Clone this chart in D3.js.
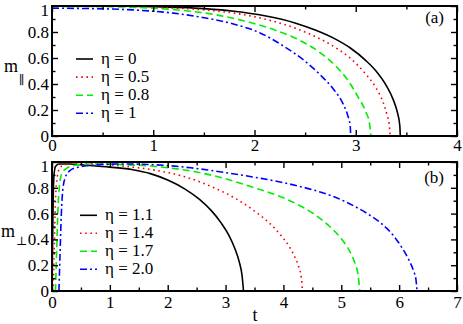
<!DOCTYPE html>
<html>
<head>
<meta charset="utf-8">
<script src="https://cdn.jsdelivr.net/npm/d3@7"></script>
<style>
  body { margin: 0; background: #fff; }
  svg text { font-family: "Times New Roman", "Liberation Serif", Times, "DejaVu Serif", serif !important; }
</style>
</head>
<body>
<div id="my_dataviz"></div>
<script>
// ---- data ----
// panel (a): m_parallel vs t
var tA0  = [0, 0.5, 1.0, 1.5, 1.8, 2.1, 2.4, 2.6, 2.8, 2.95, 3.1, 3.2, 3.3, 3.37, 3.41, 3.435, 3.44];
var mA0  = [1.0, 0.9995, 0.995, 0.98, 0.96, 0.925, 0.87, 0.815, 0.745, 0.675, 0.58, 0.5, 0.39, 0.28, 0.185, 0.08, 0];
var tA05 = [0, 0.5, 1.0, 1.5, 1.8, 2.1, 2.4, 2.6, 2.8, 2.95, 3.1, 3.2, 3.27, 3.31, 3.33, 3.34];
var mA05 = [1.0, 0.999, 0.99, 0.97, 0.945, 0.9, 0.83, 0.765, 0.68, 0.595, 0.475, 0.37, 0.26, 0.16, 0.09, 0];
var tA08 = [0, 0.5, 1.0, 1.3, 1.6, 1.9, 2.2, 2.45, 2.65, 2.8, 2.93, 3.03, 3.1, 3.135, 3.15];
var mA08 = [0.997, 0.995, 0.983, 0.965, 0.935, 0.885, 0.815, 0.735, 0.64, 0.54, 0.42, 0.29, 0.185, 0.1, 0];
var tA1  = [0, 0.4, 0.8, 1.2, 1.5, 1.8, 2.05, 2.3, 2.5, 2.65, 2.78, 2.87, 2.92, 2.945, 2.95];
var mA1  = [0.983, 0.98, 0.97, 0.945, 0.91, 0.86, 0.795, 0.685, 0.575, 0.47, 0.36, 0.255, 0.16, 0.08, 0];

// panel (b): m_perp vs t
var tB11 = [0, 0.01, 0.02, 0.035, 0.06, 0.12, 0.3, 0.6, 1.0, 1.4, 1.7, 2.0, 2.3, 2.55, 2.75, 2.92, 3.06, 3.16, 3.24, 3.285, 3.31];
var mB11 = [0, 0.35, 0.7, 0.9, 0.965, 0.985, 0.985, 0.975, 0.96, 0.94, 0.91, 0.86, 0.79, 0.71, 0.625, 0.53, 0.43, 0.33, 0.22, 0.12, 0];
var tB14 = [0.02, 0.04, 0.06, 0.09, 0.13, 0.2, 0.4, 0.8, 1.3, 1.8, 2.3, 2.8, 3.2, 3.5, 3.75, 3.95, 4.1, 4.2, 4.27, 4.31, 4.33];
var mB14 = [0, 0.35, 0.7, 0.88, 0.95, 0.975, 0.99, 0.985, 0.965, 0.935, 0.885, 0.8, 0.71, 0.62, 0.53, 0.435, 0.345, 0.26, 0.18, 0.1, 0];
var tB17 = [0.06, 0.08, 0.1, 0.13, 0.17, 0.25, 0.4, 0.7, 1.2, 1.8, 2.4, 3.0, 3.5, 3.9, 4.25, 4.55, 4.8, 5.0, 5.15, 5.24, 5.29, 5.32];
var mB17 = [0, 0.3, 0.6, 0.82, 0.91, 0.95, 0.975, 0.985, 0.98, 0.965, 0.93, 0.87, 0.80, 0.74, 0.67, 0.59, 0.5, 0.405, 0.305, 0.21, 0.125, 0];
var tB20 = [0.12, 0.14, 0.16, 0.19, 0.23, 0.3, 0.45, 0.7, 1.2, 1.8, 2.4, 3.0, 3.6, 4.1, 4.5, 4.85, 5.15, 5.45, 5.7, 5.9, 6.05, 6.17, 6.25, 6.29, 6.31];
var mB20 = [0, 0.3, 0.58, 0.8, 0.88, 0.93, 0.96, 0.975, 0.985, 0.978, 0.955, 0.918, 0.874, 0.83, 0.785, 0.735, 0.675, 0.6, 0.52, 0.43, 0.335, 0.24, 0.155, 0.09, 0];

var legendA = ["η = 0", "η = 0.5", "η = 0.8", "η = 1"];
var legendB = ["η = 1.1", "η = 1.4", "η = 1.7", "η = 2.0"];

var yTicks = [0, 0.2, 0.4, 0.6, 0.8, 1];
var yTickLabels = ["0", "0.2", "0.4", "0.6", "0.8", "1"];
var yMinor = [0.1, 0.3, 0.5, 0.7, 0.9];
var xTicksA = [0, 1, 2, 3, 4];
var xMinorA = [0.5, 1.5, 2.5, 3.5];
var xTicksB = [0, 1, 2, 3, 4, 5, 6, 7];
var xMinorB = [0.5, 1.5, 2.5, 3.5, 4.5, 5.5, 6.5];

// line styles: solid, dotted, dashed, dash-dot
var styles = [
  {color: "#000000", dash: null},
  {color: "#ff0000", dash: "1.6,3.6"},
  {color: "#00ee00", dash: "7,4"},
  {color: "#0000ff", dash: "7,3,2,3"}
];

var width = 463, height = 324;
var svg = d3.select("#my_dataviz")
  .append("svg")
    .attr("width", width)
    .attr("height", height);

function zip(ts, ms) {
  return ts.map(function(t, i) { return {t: t, m: ms[i]}; });
}

function drawPanel(p) {
  var x = d3.scaleLinear().domain([0, p.xmax]).range([52, 457]);
  var y = d3.scaleLinear().domain([0, 1]).range([p.bottom, p.top]);
  var g = svg.append("g");

  // curves
  var line = d3.line()
    .curve(d3.curveMonotoneX)
    .x(function(d) { return x(d.t); })
    .y(function(d) { return y(d.m); });

  p.series.forEach(function(s, i) {
    g.append("path")
      .datum(s)
      .attr("fill", "none")
      .attr("stroke", styles[i].color)
      .attr("stroke-width", 1.6)
      .attr("stroke-dasharray", styles[i].dash)
      .attr("d", line);
  });

  // ticks (inward on all four sides)
  function styleAxis(a) {
    a.attr("font-family", null);
    a.select(".domain").remove();
    a.selectAll("line").attr("stroke", "#000").attr("stroke-width", 1.4);
    a.selectAll("text").attr("font-size", 17).attr("fill", "#000");
  }
  g.append("g").attr("transform", "translate(0," + p.bottom + ")")
    .call(d3.axisBottom(x).tickValues(p.xTicks).tickSize(-6).tickPadding(p.xPad).tickFormat(d3.format("d")))
    .call(styleAxis);
  g.append("g").attr("transform", "translate(0," + p.bottom + ")")
    .call(d3.axisBottom(x).tickValues(p.xMinor).tickSize(-3.5).tickFormat(""))
    .call(styleAxis);
  g.append("g").attr("transform", "translate(0," + p.top + ")")
    .call(d3.axisTop(x).tickValues(p.xTicks).tickSize(-6).tickFormat(""))
    .call(styleAxis);
  g.append("g").attr("transform", "translate(0," + p.top + ")")
    .call(d3.axisTop(x).tickValues(p.xMinor).tickSize(-3.5).tickFormat(""))
    .call(styleAxis);
  var yAx = g.append("g").attr("transform", "translate(52,0)")
    .call(d3.axisLeft(y).tickValues(yTicks).tickSize(-6).tickPadding(3)
      .tickFormat(function(d, i) { return yTickLabels[i]; }))
    .call(styleAxis);
  // the top label sits a little lower, as in the original
  yAx.selectAll("text").filter(function(d) { return d === 1; }).attr("dy", "0.55em");
  g.append("g").attr("transform", "translate(52,0)")
    .call(d3.axisLeft(y).tickValues(yMinor).tickSize(-3.5).tickFormat(""))
    .call(styleAxis);
  g.append("g").attr("transform", "translate(457,0)")
    .call(d3.axisRight(y).tickValues(yTicks).tickSize(-6).tickFormat(""))
    .call(styleAxis);
  g.append("g").attr("transform", "translate(457,0)")
    .call(d3.axisRight(y).tickValues(yMinor).tickSize(-3.5).tickFormat(""))
    .call(styleAxis);

  // frame
  g.append("rect")
    .attr("x", 52).attr("y", p.top)
    .attr("width", 405).attr("height", p.bottom - p.top)
    .attr("fill", "none").attr("stroke", "#000").attr("stroke-width", 2);

  // legend
  p.legend.forEach(function(name, i) {
    var ly = p.legY + i * p.legStep;
    g.append("line")
      .attr("x1", p.legX).attr("x2", p.legX + 17)
      .attr("y1", ly).attr("y2", ly)
      .attr("stroke", styles[i].color)
      .attr("stroke-width", 1.6)
      .attr("stroke-dasharray", styles[i].dash);
    g.append("text")
      .attr("x", p.legX + 25).attr("y", ly + 5)
      .attr("font-size", 17)
      .text(name);
  });

  // panel tag
  g.append("text")
    .attr("x", 444).attr("y", p.tagY)
    .attr("text-anchor", "end")
    .attr("font-size", 17)
    .text(p.tag);

  // y label with subscript
  g.append("text").attr("x", p.mX).attr("y", p.mY).attr("font-size", 18).text("m");
  g.append("text").attr("x", p.mX + 15).attr("y", p.mY + p.subDy)
    .attr("font-size", 12).text(p.sub);
}

drawPanel({
  top: 6, bottom: 136, xmax: 4,
  xTicks: xTicksA, xMinor: xMinorA, xPad: 3,
  series: [zip(tA0, mA0), zip(tA05, mA05), zip(tA08, mA08), zip(tA1, mA1)],
  legend: legendA, legX: 76, legY: 59, legStep: 18.1,
  tag: "(a)", tagY: 23,
  mX: 4, mY: 72, sub: "\u2225", subDy: 12
});

drawPanel({
  top: 162, bottom: 291, xmax: 7,
  xTicks: xTicksB, xMinor: xMinorB, xPad: 5,
  series: [zip(tB11, mB11), zip(tB14, mB14), zip(tB17, mB17), zip(tB20, mB20)],
  legend: legendB, legX: 80, legY: 215.3, legStep: 18,
  tag: "(b)", tagY: 183,
  mX: 1, mY: 237, sub: "\u22A5", subDy: 8
});

// x label
svg.append("text")
  .attr("x", 255).attr("y", 321)
  .attr("text-anchor", "middle")
  .attr("font-size", 18)
  .text("t");
</script>
</body>
</html>
